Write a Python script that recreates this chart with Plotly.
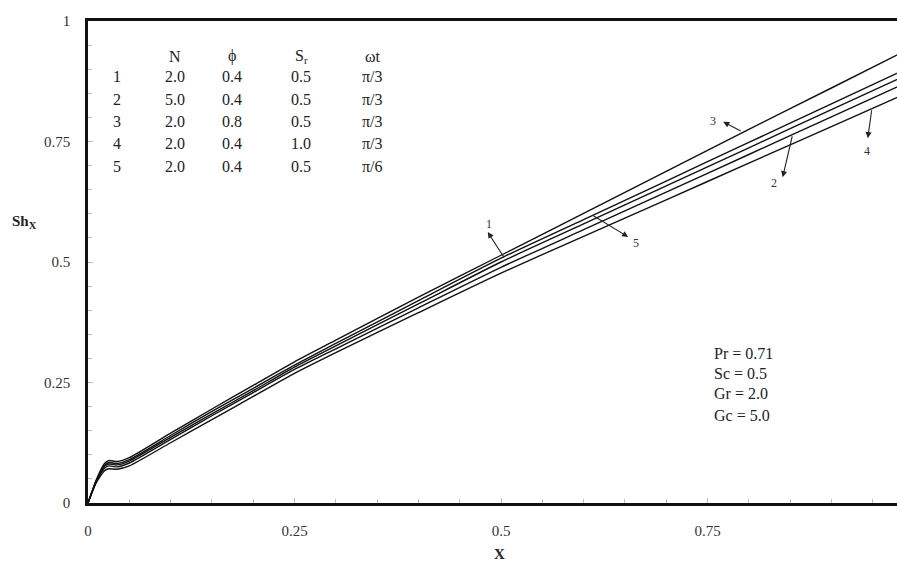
import plotly.graph_objects as go

# ---------------- data ----------------
x_vals = [0, 0.01, 0.02, 0.025, 0.035, 0.05, 0.1, 0.15, 0.2, 0.25, 0.3, 0.4, 0.5, 0.6, 0.7, 0.8, 0.9, 1.0]
curve_3 = [0, 0.048, 0.082, 0.088, 0.086, 0.094, 0.145, 0.195, 0.244, 0.293, 0.338, 0.427, 0.514, 0.601, 0.688, 0.775, 0.861, 0.947]
curve_5 = [0, 0.046, 0.078, 0.084, 0.082, 0.090, 0.140, 0.190, 0.238, 0.286, 0.331, 0.420, 0.508, 0.588, 0.668, 0.748, 0.828, 0.908]
curve_1 = [0, 0.045, 0.076, 0.081, 0.079, 0.087, 0.136, 0.185, 0.233, 0.282, 0.326, 0.413, 0.500, 0.579, 0.658, 0.737, 0.816, 0.895]
curve_2 = [0, 0.044, 0.072, 0.077, 0.075, 0.083, 0.132, 0.181, 0.229, 0.277, 0.320, 0.405, 0.489, 0.567, 0.645, 0.723, 0.801, 0.879]
curve_4 = [0, 0.042, 0.067, 0.071, 0.070, 0.077, 0.125, 0.173, 0.221, 0.269, 0.312, 0.395, 0.477, 0.553, 0.629, 0.705, 0.781, 0.857]
curves = [curve_1, curve_2, curve_3, curve_4, curve_5]

table_header = ["", "N", "ϕ", "S<sub>r</sub>", "ωt"]
table_ids = ["1", "2", "3", "4", "5"]
table_N = ["2.0", "5.0", "2.0", "2.0", "2.0"]
table_phi = ["0.4", "0.4", "0.8", "0.4", "0.4"]
table_Sr = ["0.5", "0.5", "0.5", "1.0", "0.5"]
table_wt = ["π/3", "π/3", "π/3", "π/3", "π/6"]

params_text = ["Pr = 0.71", "Sc = 0.5", "Gr = 2.0", "Gc = 5.0"]

# curve labels: (label, tail x, tail y, head x, head y, text x, text y)
curve_labels = [
    ("1", 0.505, 0.506, 0.484, 0.562, 0.485, 0.578),
    ("5", 0.610, 0.598, 0.654, 0.552, 0.664, 0.540),
    ("3", 0.792, 0.770, 0.769, 0.791, 0.757, 0.793),
    ("2", 0.853, 0.764, 0.841, 0.676, 0.831, 0.664),
    ("4", 0.949, 0.818, 0.944, 0.757, 0.943, 0.730),
]

FONT = "Liberation Serif"

fig = go.Figure()
for c in curves:
    fig.add_trace(go.Scatter(x=x_vals, y=c, mode="lines",
                             line=dict(color="#111111", width=1.4, shape="spline", smoothing=0.6),
                             showlegend=False, hoverinfo="skip"))

annotations = []
# curve label arrows
for lab, tx, ty, hx, hy, lx, ly in curve_labels:
    annotations.append(dict(x=hx, y=hy, ax=tx, ay=ty, xref="x", yref="y", axref="x", ayref="y",
                            text="", showarrow=True, arrowhead=2, arrowsize=1.1, arrowwidth=1.1,
                            arrowcolor="#222"))
    annotations.append(dict(x=lx, y=ly, xref="x", yref="y", text=lab, showarrow=False,
                            font=dict(family=FONT, size=12, color="#333")))

# table
col_x = [0.035, 0.105, 0.174, 0.258, 0.345]
header_y = 0.927
row_y = [0.884, 0.838, 0.791, 0.745, 0.699]
for cx, h in zip(col_x, table_header):
    if h:
        annotations.append(dict(x=cx, y=header_y, xref="x", yref="y", text=h, showarrow=False,
                                font=dict(family=FONT, size=16, color="#222")))
columns = [table_ids, table_N, table_phi, table_Sr, table_wt]
for cx, col in zip(col_x, columns):
    for ry, val in zip(row_y, col):
        annotations.append(dict(x=cx, y=ry, xref="x", yref="y", text=val, showarrow=False,
                                font=dict(family=FONT, size=16, color="#222")))

# parameter box
param_y = [0.310, 0.268, 0.227, 0.182]
for py, t in zip(param_y, params_text):
    annotations.append(dict(x=0.755, y=py, xref="x", yref="y", text=t, showarrow=False,
                            xanchor="left", font=dict(family=FONT, size=16, color="#222")))

# axis titles
annotations.append(dict(x=-0.079, y=0.583, xref="paper", yref="paper", text="<b>Sh<sub>X</sub></b>",
                        showarrow=False, xanchor="center", yanchor="middle",
                        font=dict(family=FONT, size=15, color="#222")))
annotations.append(dict(x=0.509, y=-0.105, xref="paper", yref="paper", text="<b>X</b>",
                        showarrow=False, xanchor="center", yanchor="middle",
                        font=dict(family=FONT, size=15, color="#222")))

fig.update_layout(
    width=897, height=565,
    margin=dict(l=88, r=0, t=21, b=62),
    paper_bgcolor="white", plot_bgcolor="white",
    font=dict(family=FONT, size=15, color="#333"),
    annotations=annotations,
    xaxis=dict(range=[0, 0.9794], tickvals=[0, 0.25, 0.5, 0.75], ticktext=["0", "0.25", "0.5", "0.75"],
               showgrid=False, zeroline=False, showline=True, linecolor="#111", linewidth=2.5,
               mirror=True, ticks="inside", ticklen=5, tickcolor="#bbb", ticklabelstandoff=12,
               minor=dict(dtick=0.05, ticks="inside", ticklen=4, tickcolor="#bbb"),
               tickfont=dict(family=FONT, size=15, color="#333")),
    yaxis=dict(range=[0, 1], tickvals=[0, 0.25, 0.5, 0.75, 1], ticktext=["0", "0.25", "0.5", "0.75", "1"],
               showgrid=False, zeroline=False, showline=True, linecolor="#111", linewidth=2.5,
               mirror=False, ticks="inside", ticklen=5, tickcolor="#bbb", ticklabelstandoff=12,
               minor=dict(dtick=0.05, ticks="inside", ticklen=4, tickcolor="#bbb"),
               tickfont=dict(family=FONT, size=15, color="#333")),
)

fig.write_html("out.html")
